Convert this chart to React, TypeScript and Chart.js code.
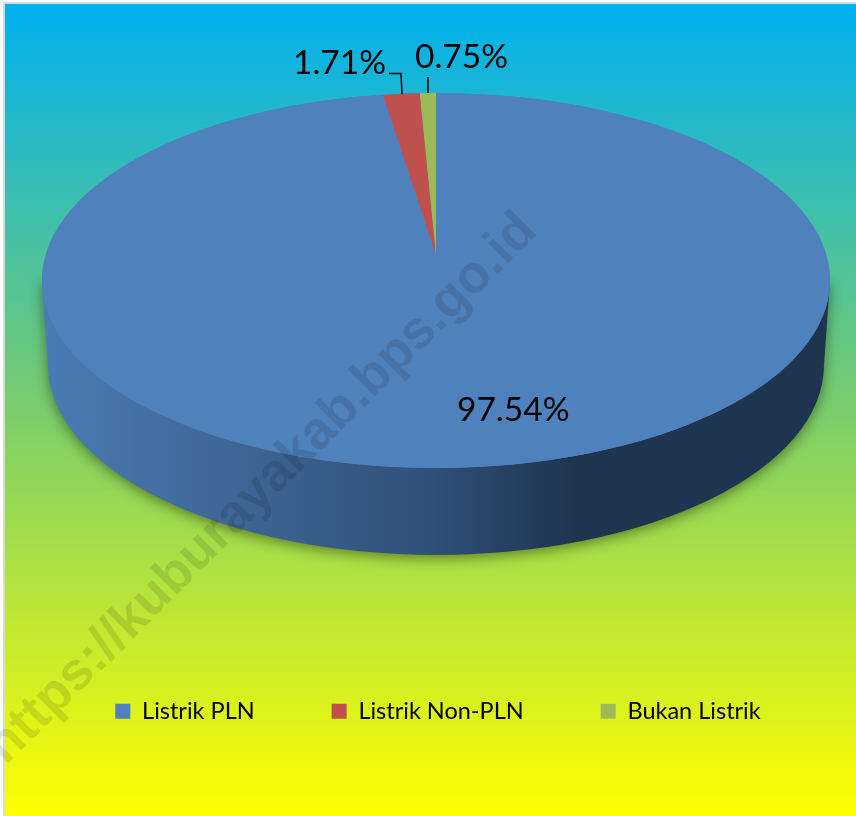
import React, { useEffect, useRef } from "react";
import { Chart, registerables } from "chart.js";

Chart.register(...registerables);

const categories = ["Listrik PLN", "Listrik Non-PLN", "Bukan Listrik"];
const shares = [97.54, 1.71, 0.75];
const sliceColors = ["#4f81bd", "#c0504d", "#9bbb59"];
const watermark = "https://kuburayakab.bps.go.id";

const FONT = "Lato, Carlito, sans-serif";

const pie3d = {
  id: "pie3d",
  beforeDraw(chart: any) {
    const { ctx, width, height } = chart;
    ctx.save();
    ctx.fillStyle = "#ffffff";
    ctx.fillRect(0, 0, width, height);
    ctx.fillStyle = "#d9d9d9";
    ctx.fillRect(3, 2, width, height);
    const g = ctx.createLinearGradient(0, 4, 0, height);
    g.addColorStop(0, "#00b0f0");
    g.addColorStop(0.5, "#7acd6c");
    g.addColorStop(1, "#ffff00");
    ctx.fillStyle = g;
    ctx.fillRect(5, 4, width, height);
    ctx.restore();
  },
  beforeDatasetDraw(chart: any) {
    const { ctx } = chart;
    const arcs = chart.getDatasetMeta(0).data;
    const cx = 436, cy = 280.5, rx = 394, ry = 187.5;
    const lowX = 436, lowY = 365, lowRx = 388, lowRy = 190;

    // side wall with soft shadow
    ctx.save();
    const wall = ctx.createLinearGradient(48, 0, 824, 0);
    wall.addColorStop(0, "#4a7bb3");
    wall.addColorStop(0.3, "#3b618f");
    wall.addColorStop(0.5, "#2f4f78");
    wall.addColorStop(0.68, "#1f344f");
    wall.addColorStop(1, "#1f344f");
    ctx.fillStyle = wall;
    ctx.shadowColor = "rgba(30,40,0,0.55)";
    ctx.shadowBlur = 14;
    ctx.shadowOffsetY = 3;
    ctx.beginPath();
    ctx.moveTo(cx - rx, cy);
    ctx.lineTo(lowX - lowRx, lowY);
    ctx.ellipse(lowX, lowY, lowRx, lowRy, 0, Math.PI, 0, true);
    ctx.lineTo(cx + rx, cy);
    ctx.closePath();
    ctx.fill();
    ctx.restore();

    // top face base
    ctx.save();
    ctx.fillStyle = sliceColors[0];
    ctx.beginPath();
    ctx.ellipse(cx, cy, rx, ry, 0, 0, Math.PI * 2);
    ctx.fill();
    ctx.restore();

    // the big slice, squashed to the face ellipse
    const a = arcs[0];
    const R = a.outerRadius;
    ctx.save();
    ctx.translate(cx, cy);
    ctx.scale(rx / R, ry / R);
    ctx.translate(-a.x, -a.y);
    a.draw(ctx);
    ctx.restore();

    // the thin slices meet at the perspective apex
    const apexX = 436, apexY = 255;
    ctx.save();
    ctx.beginPath();
    ctx.ellipse(cx, cy, rx, ry, 0, 0, Math.PI * 2);
    ctx.clip();
    ctx.translate(apexX, apexY);
    ctx.scale((2.13 * 175) / R, 175 / R);
    ctx.translate(-a.x, -a.y);
    arcs[1].draw(ctx);
    arcs[2].draw(ctx);
    ctx.restore();
    return false;
  },
  afterDatasetsDraw(chart: any) {
    const { ctx } = chart;
    // watermark
    ctx.save();
    ctx.translate(262, 489);
    ctx.rotate(-Math.PI / 4);
    ctx.font = "bold 53px 'Liberation Sans', Arial, sans-serif";
    ctx.fillStyle = "rgba(0,0,0,0.11)";
    ctx.textAlign = "center";
    ctx.textBaseline = "middle";
    ctx.fillText(watermark, 0, 0);
    ctx.restore();

    // percentage labels and leaders
    ctx.save();
    ctx.fillStyle = "#000";
    ctx.font = `33.5px ${FONT}`;
    ctx.textAlign = "left";
    ctx.textBaseline = "middle";
    ctx.fillText(`${shares[0].toFixed(2)}%`, 457, 410);
    ctx.fillText(`${shares[1].toFixed(2)}%`, 293, 63);
    ctx.fillText(`${shares[2].toFixed(2)}%`, 415, 57);
    ctx.strokeStyle = "#000";
    ctx.lineWidth = 1.5;
    ctx.beginPath();
    ctx.moveTo(389, 73.5);
    ctx.lineTo(401, 73.5);
    ctx.lineTo(402, 94);
    ctx.moveTo(428, 77);
    ctx.lineTo(428, 93);
    ctx.stroke();
    ctx.restore();
  },
};

export default function App() {
  const ref = useRef<HTMLCanvasElement>(null);
  useEffect(() => {
    const chart = new Chart(ref.current!, {
      type: "pie",
      data: {
        labels: categories,
        datasets: [{ data: shares, backgroundColor: sliceColors, borderWidth: 0 }],
      },
      options: {
        responsive: false,
        animation: false,
        layout: { padding: { left: 20, bottom: 83 } },
        plugins: {
          tooltip: { enabled: false },
          legend: {
            position: "bottom",
            labels: {
              boxWidth: 15,
              boxHeight: 15,
              padding: 77,
              color: "#000",
              font: { family: FONT, size: 23.5 },
            },
          },
        },
      },
      plugins: [pie3d],
    } as any);
    return () => chart.destroy();
  }, []);
  return (
    <canvas
      ref={ref}
      width={856}
      height={816}
      style={{ position: "absolute", left: 0, top: 0, display: "block" }}
    />
  );
}
